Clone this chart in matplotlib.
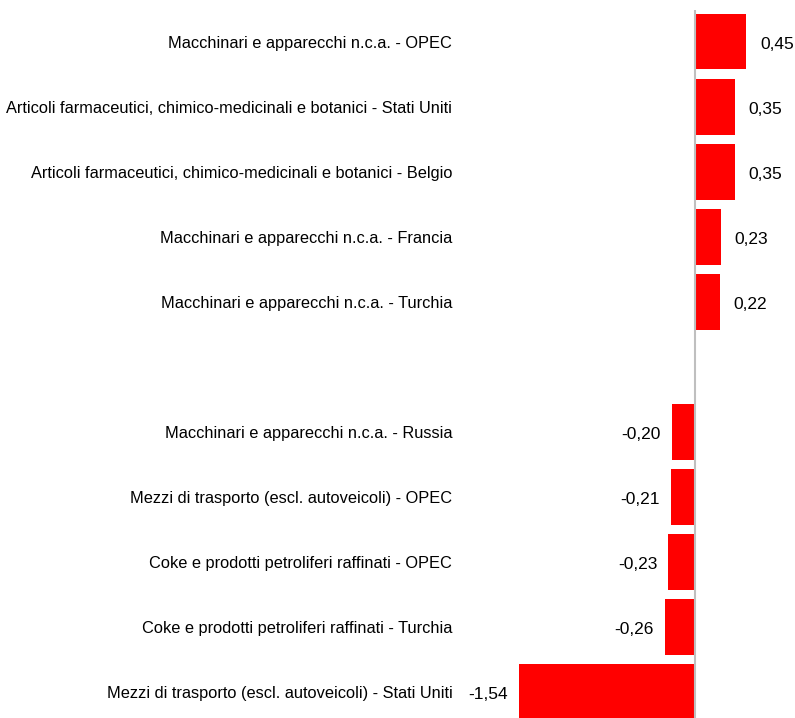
import matplotlib
matplotlib.use('Agg')
import matplotlib.pyplot as plt
import numpy as np

# Dati
etichette = ['Macchinari e apparecchi n.c.a. - OPEC',
             'Articoli farmaceutici, chimico-medicinali e botanici - Stati Uniti',
             'Articoli farmaceutici, chimico-medicinali e botanici - Belgio',
             'Macchinari e apparecchi n.c.a. - Francia',
             'Macchinari e apparecchi n.c.a. - Turchia',
             '',
             'Macchinari e apparecchi n.c.a. - Russia',
             'Mezzi di trasporto (escl. autoveicoli) - OPEC',
             'Coke e prodotti petroliferi raffinati - OPEC',
             'Coke e prodotti petroliferi raffinati - Turchia',
             'Mezzi di trasporto (escl. autoveicoli) - Stati Uniti']
valori = [0.45, 0.35, 0.35, 0.23, 0.22, np.nan, -0.20, -0.21, -0.23, -0.26, -1.54]

plt.rcParams['font.family'] = ['Liberation Sans', 'DejaVu Sans']

fig = plt.figure(figsize=(7.95, 7.18), dpi=100)
ax = fig.add_axes([519/795, 0, 227/795, 708/718])

pos = np.arange(len(etichette))
ax.barh(pos, valori, height=0.85, color='#FF0000')
ax.axvline(0, color='#BFBFBF', lw=1.5, zorder=3)

# etichette dei valori
for y, v in zip(pos, valori):
    if np.isnan(v):
        continue
    testo = f'{v:.2f}'.replace('.', ',')
    if v >= 0:
        ax.annotate(testo, (v, y), xytext=(10, -2), textcoords='offset points',
                    ha='left', va='center', fontsize=12.5)
    else:
        ax.annotate(testo, (v, y), xytext=(-8, -2), textcoords='offset points',
                    ha='right', va='center', fontsize=12.5)

ax.set_xlim(-1.54, 0.45)
ax.set_ylim(10.4, -0.49)
ax.set_yticks(pos)
ax.set_yticklabels(etichette, fontsize=11.8)
ax.tick_params(axis='y', length=0, pad=48)
ax.set_xticks([])
for s in ax.spines.values():
    s.set_visible(False)

fig.savefig('out.png', dpi=100)
